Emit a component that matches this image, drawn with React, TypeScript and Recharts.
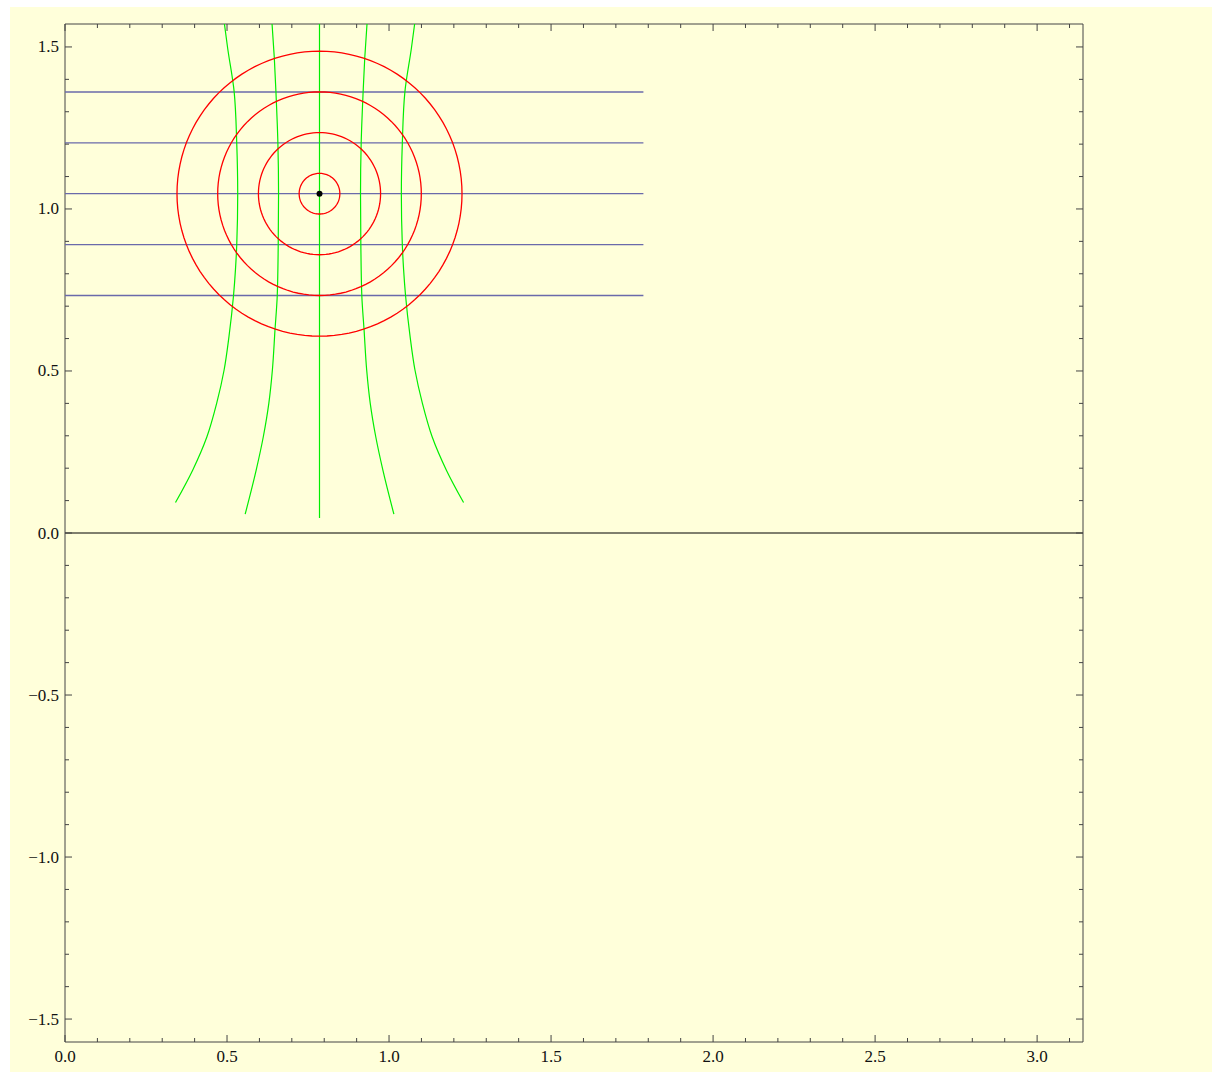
import React from "react";
import {
  ScatterChart,
  Scatter,
  XAxis,
  YAxis,
  ReferenceLine,
} from "recharts";

const PI = Math.PI;

// center of the circles and its radii
const center = { x: 0.7854, y: 1.0472 };
const circleRadii = [0.0628, 0.1885, 0.3142, 0.4398];

// horizontal (blue) lines
const blueLevels = [0.733, 0.89, 1.0472, 1.204, 1.361];
const blueStart = 0;
const blueEnd = 1.785;

// green curves, top to bottom
const greenOuterLeft = [
  { x: 0.492, y: 1.5708 },
  { x: 0.502, y: 1.496 },
  { x: 0.522, y: 1.362 },
  { x: 0.53, y: 1.203 },
  { x: 0.533, y: 1.046 },
  { x: 0.53, y: 0.889 },
  { x: 0.526, y: 0.812 },
  { x: 0.52, y: 0.732 },
  { x: 0.506, y: 0.606 },
  { x: 0.491, y: 0.503 },
  { x: 0.468, y: 0.4 },
  { x: 0.438, y: 0.297 },
  { x: 0.394, y: 0.194 },
  { x: 0.341, y: 0.094 },
];
const greenInnerLeft = [
  { x: 0.639, y: 1.5708 },
  { x: 0.646, y: 1.465 },
  { x: 0.651, y: 1.36 },
  { x: 0.657, y: 1.203 },
  { x: 0.659, y: 1.046 },
  { x: 0.658, y: 0.889 },
  { x: 0.655, y: 0.732 },
  { x: 0.648, y: 0.626 },
  { x: 0.64, y: 0.503 },
  { x: 0.629, y: 0.4 },
  { x: 0.612, y: 0.297 },
  { x: 0.59, y: 0.194 },
  { x: 0.556, y: 0.058 },
];
const greenMiddle = [
  { x: 0.7854, y: 1.5708 },
  { x: 0.7854, y: 0.046 },
];
const greenInnerRight = [
  { x: 0.932, y: 1.5708 },
  { x: 0.925, y: 1.465 },
  { x: 0.92, y: 1.36 },
  { x: 0.914, y: 1.203 },
  { x: 0.912, y: 1.046 },
  { x: 0.913, y: 0.889 },
  { x: 0.916, y: 0.732 },
  { x: 0.923, y: 0.626 },
  { x: 0.931, y: 0.503 },
  { x: 0.942, y: 0.4 },
  { x: 0.959, y: 0.297 },
  { x: 0.981, y: 0.194 },
  { x: 1.015, y: 0.058 },
];
const greenOuterRight = [
  { x: 1.079, y: 1.5708 },
  { x: 1.069, y: 1.496 },
  { x: 1.049, y: 1.362 },
  { x: 1.041, y: 1.203 },
  { x: 1.038, y: 1.046 },
  { x: 1.041, y: 0.889 },
  { x: 1.045, y: 0.812 },
  { x: 1.051, y: 0.732 },
  { x: 1.065, y: 0.606 },
  { x: 1.08, y: 0.503 },
  { x: 1.103, y: 0.4 },
  { x: 1.133, y: 0.297 },
  { x: 1.177, y: 0.194 },
  { x: 1.23, y: 0.094 },
];
const greenCurves = [
  greenOuterLeft,
  greenInnerLeft,
  greenMiddle,
  greenInnerRight,
  greenOuterRight,
];

const xTicks = Array.from({ length: 32 }, (_, i) => i / 10);
const yTicks = Array.from({ length: 31 }, (_, i) => (i - 15) / 10);

const RED = "#ff0000";
const GREEN = "#00ee00";
const BLUE = "#6a6aaa";
const FRAME = "#444";
const FONT = "Liberation Serif, DejaVu Serif, serif";

function isMajor(v: number) {
  return Math.abs(v * 2 - Math.round(v * 2)) < 1e-6;
}
function fmt(v: number) {
  const s = Math.abs(v).toFixed(1);
  return v < -1e-9 ? "\u2212" + s : s;
}

function circlePoints(r: number) {
  const n = 120;
  return Array.from({ length: n + 1 }, (_, i) => {
    const a = (i / n) * 2 * PI;
    return { x: center.x + r * Math.cos(a), y: center.y + r * Math.sin(a) };
  });
}

const labelStyle = { fontSize: 17, fontFamily: FONT, fill: "#111" };

const Tick = (props: any) => {
  const { x, y, payload, side } = props;
  const v = payload.value as number;
  const len = isMajor(v) ? 7 : 4;
  const showLabel = isMajor(v);
  if (side === "bottom")
    return (
      <g>
        <line x1={x} y1={y} x2={x} y2={y - len} stroke={FRAME} />
        {showLabel && (
          <text x={x} y={y + 20} textAnchor="middle" style={labelStyle}>
            {fmt(v)}
          </text>
        )}
      </g>
    );
  if (side === "top")
    return <line x1={x} y1={y} x2={x} y2={y + len} stroke={FRAME} />;
  if (side === "left")
    return (
      <g>
        <line x1={x} y1={y} x2={x + len} y2={y} stroke={FRAME} />
        {showLabel && (
          <text x={x - 6} y={y + 5.5} textAnchor="end" style={labelStyle}>
            {fmt(v)}
          </text>
        )}
      </g>
    );
  return <line x1={x} y1={y} x2={x - len} y2={y} stroke={FRAME} />;
};

const NoShape = () => <g />;

export default function App() {
  return (
    <div
      style={{
        position: "absolute",
        left: 10,
        top: 7,
        width: 1202,
        height: 1065,
        background: "#ffffda",
      }}
    >
      <ScatterChart
        width={1202}
        height={1065}
        margin={{ top: 16, right: 128, bottom: 0, left: 0 }}
      >
        <XAxis
          type="number"
          dataKey="x"
          domain={[0, PI]}
          ticks={xTicks}
          interval={0}
          allowDataOverflow
          tickLine={false}
          tickSize={0}
          tickMargin={0}
          axisLine={{ stroke: FRAME }}
          tick={<Tick side="bottom" />}
          height={30}
        />
        <XAxis
          xAxisId="top"
          orientation="top"
          type="number"
          dataKey="x"
          domain={[0, PI]}
          ticks={xTicks}
          interval={0}
          allowDataOverflow
          tickLine={false}
          tickSize={0}
          tickMargin={0}
          axisLine={{ stroke: FRAME }}
          tick={<Tick side="top" />}
          height={1}
        />
        <YAxis
          type="number"
          dataKey="y"
          domain={[-PI / 2, PI / 2]}
          ticks={yTicks}
          interval={0}
          allowDataOverflow
          tickLine={false}
          tickSize={0}
          tickMargin={0}
          axisLine={{ stroke: FRAME }}
          tick={<Tick side="left" />}
          width={55}
        />
        <YAxis
          yAxisId="right"
          orientation="right"
          type="number"
          dataKey="y"
          domain={[-PI / 2, PI / 2]}
          ticks={yTicks}
          interval={0}
          allowDataOverflow
          tickLine={false}
          tickSize={0}
          tickMargin={0}
          axisLine={{ stroke: FRAME }}
          tick={<Tick side="right" />}
          width={1}
        />
        {/* invisible series so the top / right frame axes are drawn */}
        <Scatter
          xAxisId="top"
          yAxisId="right"
          data={[center]}
          shape={NoShape}
          isAnimationActive={false}
        />
        <ReferenceLine y={0} stroke="#000" strokeWidth={1} />
        {blueLevels.map((lv, i) => (
          <Scatter
            key={"b" + i}
            data={[
              { x: blueStart, y: lv },
              { x: blueEnd, y: lv },
            ]}
            line={{ stroke: BLUE, strokeWidth: 1.3 }}
            lineType="joint"
            shape={NoShape}
            isAnimationActive={false}
          />
        ))}
        {greenCurves.map((c, i) => (
          <Scatter
            key={"g" + i}
            data={c}
            line={{ stroke: GREEN, strokeWidth: 1.2 }}
            lineType="joint"
            lineJointType="monotoneY"
            shape={NoShape}
            isAnimationActive={false}
          />
        ))}
        {circleRadii.map((r, i) => (
          <Scatter
            key={"c" + i}
            data={circlePoints(r)}
            line={{ stroke: RED, strokeWidth: 1.3 }}
            lineType="joint"
            shape={NoShape}
            isAnimationActive={false}
          />
        ))}
        <Scatter
          data={[center]}
          fill="#000"
          shape={(p: any) => <circle cx={p.cx} cy={p.cy} r={3} fill="#000" />}
          isAnimationActive={false}
        />
      </ScatterChart>
    </div>
  );
}
